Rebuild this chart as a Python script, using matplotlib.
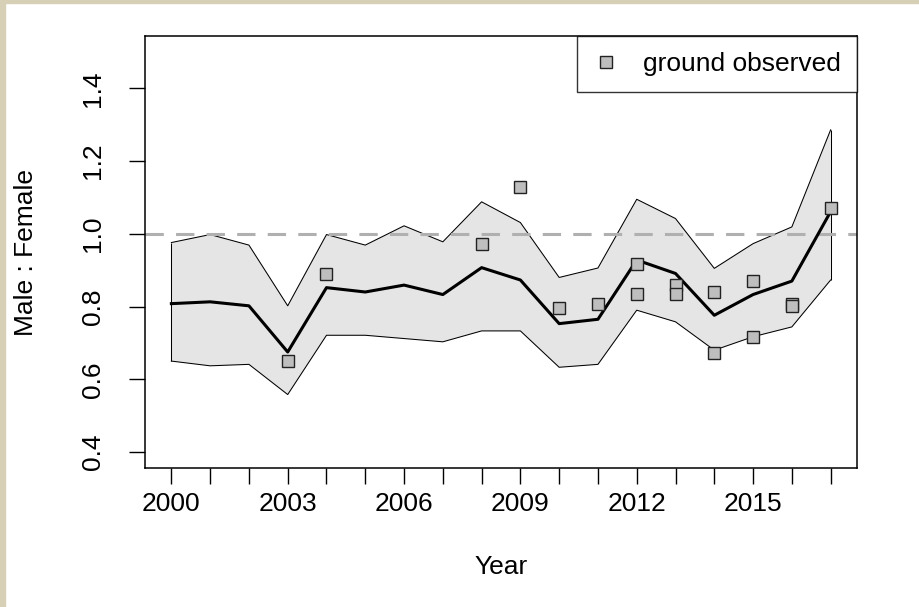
import numpy as np
import matplotlib
matplotlib.use('Agg')
import matplotlib.pyplot as plt
from matplotlib.patches import Rectangle

plt.rcParams['font.family'] = ['Liberation Sans', 'DejaVu Sans']

# Modelled sex ratio with its band
years = np.arange(2000, 2018)
ratio_mean = [0.808, 0.813, 0.802, 0.675, 0.852, 0.840, 0.859, 0.833, 0.907,
              0.873, 0.753, 0.765, 0.928, 0.891, 0.776, 0.833, 0.870, 1.061]
ratio_upper = [0.976, 0.998, 0.969, 0.802, 0.998, 0.969, 1.022, 0.978, 1.088,
               1.031, 0.880, 0.906, 1.095, 1.042, 0.905, 0.973, 1.019, 1.286]
ratio_lower = [0.650, 0.637, 0.641, 0.558, 0.721, 0.721, 0.712, 0.703, 0.733,
               0.733, 0.633, 0.641, 0.790, 0.758, 0.680, 0.717, 0.744, 0.873]

# ground observations
obs_year = [2003, 2004, 2008, 2009, 2010, 2011, 2012, 2012, 2013, 2013,
            2014, 2014, 2015, 2015, 2016, 2016, 2017]
obs_ratio = [0.650, 0.889, 0.973, 1.129, 0.796, 0.807, 0.916, 0.834, 0.859, 0.834,
             0.839, 0.671, 0.871, 0.717, 0.807, 0.802, 1.070]

xticks = [2000, 2003, 2006, 2009, 2012, 2015]
yticks = [0.4, 0.6, 0.8, 1.0, 1.2, 1.4]

fs = 19

fig = plt.figure(figsize=(9.2, 6.07), dpi=100)
fig.patch.set_facecolor('white')
# textured page edge
fig.patches.append(Rectangle((0, 0), 5/920., 1, transform=fig.transFigure,
                             color='#d8d0b6', zorder=0))
fig.patches.append(Rectangle((0, 1-3/607.), 1, 3/607., transform=fig.transFigure,
                             color='#d8d0b6', zorder=0))

ax = fig.add_axes([145/920., 1-468/607., 712/920., 432/607.])

xr = years[-1]-years[0]
ax.set_xlim(years[0]-0.04*xr, years[-1]+0.04*xr)
ax.set_ylim(0.4-0.04*1.1, 1.5+0.04*1.1)

ax.fill_between(years, ratio_lower, ratio_upper, facecolor='#e5e5e5',
                edgecolor='none', zorder=1)
ax.plot(years, ratio_upper, color='black', lw=0.75, zorder=2)
ax.plot(years, ratio_lower, color='black', lw=0.75, zorder=2)
ax.vlines([years[0], years[-1]], [ratio_lower[0], ratio_lower[-1]],
          [ratio_upper[0], ratio_upper[-1]], color='black', lw=0.75, zorder=2)
ax.axhline(1.0, color='#b0b0b0', lw=2.2, dashes=(6, 4), zorder=2)
ax.plot(years, ratio_mean, color='black', lw=2.2, zorder=3)
ax.plot(obs_year, obs_ratio, 's', ms=8, mfc='#bebebe', mec='#222222', mew=1.0,
        ls='none', zorder=4, label='ground observed')

ax.set_xticks(years)
ax.set_xticklabels([str(y) if y in xticks else '' for y in years])
ax.set_yticks(yticks)
ax.set_yticklabels(['%.1f' % v for v in yticks], rotation=90, va='center')
ax.tick_params(axis='both', direction='out', length=11.5, width=1.0,
               labelsize=fs, colors='black')
ax.tick_params(axis='x', pad=6)
ax.tick_params(axis='y', pad=17)
for sp in ax.spines.values():
    sp.set_linewidth(1.1)

ax.set_xlabel('Year', fontsize=fs, va='center')
ax.xaxis.set_label_coords(0.5, -0.229)
ax.set_ylabel('Male : Female', fontsize=fs, va='center', ha='center')
ax.yaxis.set_label_coords(-0.167, 0.5)

leg = ax.legend(loc='upper right', fontsize=fs, frameon=True, fancybox=False,
                borderaxespad=0, borderpad=0.6, handlelength=1.0,
                handletextpad=0.9)
leg.get_frame().set_edgecolor('black')
leg.get_frame().set_linewidth(1.0)

fig.savefig('out.png', dpi=100)
